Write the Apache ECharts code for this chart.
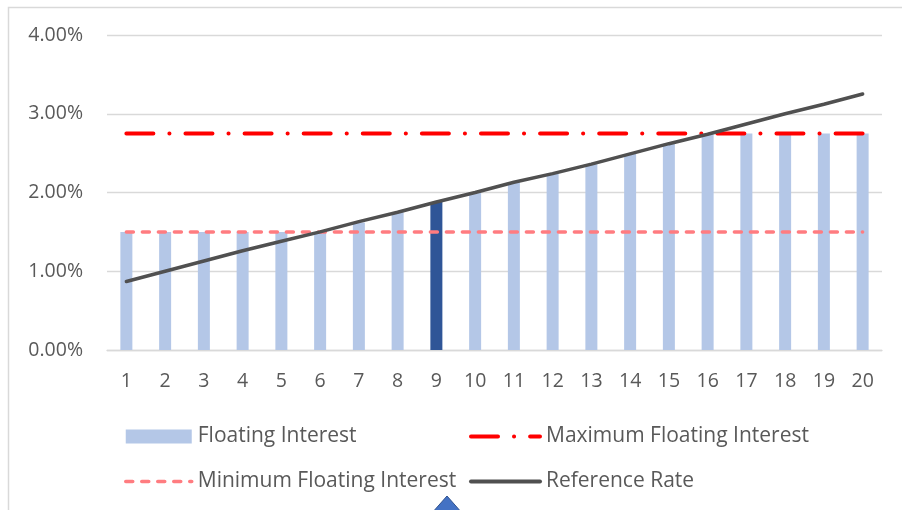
<!DOCTYPE html>
<html>
<head>
<meta charset="utf-8">
<script src="https://cdn.jsdelivr.net/npm/echarts@6/dist/echarts.min.js"></script>
<style>
html,body{margin:0;padding:0;background:#fff;}
#chart{width:902px;height:510px;}
</style>
</head>
<body>
<div id="chart"></div>
<script>
const categories = ['1','2','3','4','5','6','7','8','9','10','11','12','13','14','15','16','17','18','19','20'];
const floatingInterest = [1.5,1.5,1.5,1.5,1.5,1.5,1.62,1.75,1.88,2.0,2.13,2.24,2.36,2.49,2.62,2.74,2.75,2.75,2.75,2.75];
const maximumFloating = [2.75,2.75,2.75,2.75,2.75,2.75,2.75,2.75,2.75,2.75,2.75,2.75,2.75,2.75,2.75,2.75,2.75,2.75,2.75,2.75];
const minimumFloating = [1.5,1.5,1.5,1.5,1.5,1.5,1.5,1.5,1.5,1.5,1.5,1.5,1.5,1.5,1.5,1.5,1.5,1.5,1.5,1.5];
const referenceRate = [0.87,1.0,1.13,1.26,1.38,1.5,1.63,1.75,1.88,2.0,2.13,2.24,2.36,2.49,2.62,2.74,2.87,3.0,3.12,3.25];
const yTicks = [0, 1, 2, 3, 4];
const highlightIndex = 8;

const FONT = 'Open Sans';
const TXT = '#595959';
const FS = 19.5;
const LFS = 21;

const MAX_DASH = [27, 16, 0.1, 16];
const MIN_DASH = [7, 9];

const chart = echarts.init(document.getElementById('chart'), null, {renderer: 'canvas'});
chart.setOption({
  animation: false,
  backgroundColor: '#ffffff',
  textStyle: {fontFamily: FONT, color: TXT},
  grid: {left: 107, right: 20, top: 35, bottom: 160, containLabel: false},
  xAxis: {
    type: 'category',
    data: categories,
    axisLine: {show: true, lineStyle: {color: '#D9D9D9', width: 1.3}},
    axisTick: {show: false},
    axisLabel: {color: TXT, fontFamily: FONT, fontSize: FS, margin: 21}
  },
  yAxis: {
    type: 'value',
    min: yTicks[0],
    max: yTicks[yTicks.length - 1],
    interval: 1,
    axisLine: {show: false},
    axisTick: {show: false},
    splitLine: {lineStyle: {color: '#D9D9D9', width: 1.3}},
    axisLabel: {color: TXT, fontFamily: FONT, fontSize: FS, margin: 24,
      formatter: v => v.toFixed(2) + '%'}
  },
  legend: [
    {
      orient: 'vertical', left: 119, top: 420,
      itemWidth: 66, itemHeight: 14, itemGap: 22,
      data: [
        {name: 'Floating Interest', icon: 'rect'},
        {name: 'Minimum Floating Interest', itemStyle: {opacity: 0}, lineStyle: {width: 3.5, type: MIN_DASH, cap: 'round', color: '#FF7C80'}}
      ],
      textStyle: {color: TXT, fontFamily: FONT, fontSize: LFS, lineHeight: 23, padding: [0,0,0,1]}
    },
    {
      orient: 'vertical', left: 464, top: 420,
      itemWidth: 69, itemHeight: 14, itemGap: 22,
      data: [
        {name: 'Maximum Floating Interest', itemStyle: {opacity: 0}, lineStyle: {width: 4, type: MAX_DASH, cap: 'round', color: '#FF0000'}},
        {name: 'Reference Rate', itemStyle: {opacity: 0}, lineStyle: {width: 4, cap: 'round', color: '#505050'}}
      ],
      textStyle: {color: TXT, fontFamily: FONT, fontSize: LFS, lineHeight: 23, padding: [0,0,0,1]}
    }
  ],
  series: [
    {
      name: 'Floating Interest',
      type: 'bar',
      barWidth: 12,
      itemStyle: {color: '#B4C7E7'},
      data: floatingInterest.map((v, i) => i === highlightIndex ? {value: v, itemStyle: {color: '#2F5597'}} : v),
      z: 1
    },
    {
      name: 'Maximum Floating Interest',
      type: 'line',
      data: maximumFloating,
      symbol: 'none',
      lineStyle: {color: '#FF0000', width: 4, type: MAX_DASH, cap: 'round'},
      itemStyle: {color: '#FF0000'},
      z: 3
    },
    {
      name: 'Minimum Floating Interest',
      type: 'line',
      data: minimumFloating,
      symbol: 'none',
      lineStyle: {color: '#FF7C80', width: 3.5, type: MIN_DASH, cap: 'round'},
      itemStyle: {color: '#FF7C80'},
      z: 3
    },
    {
      name: 'Reference Rate',
      type: 'line',
      data: referenceRate,
      symbol: 'none',
      lineStyle: {color: '#505050', width: 3.5, cap: 'round'},
      itemStyle: {color: '#505050'},
      z: 4
    }
  ],
  graphic: [
    {
      type: 'rect', silent: true, z: -1,
      shape: {x: 8.5, y: 7.5, width: 1000, height: 600},
      style: {fill: 'none', stroke: '#D9D9D9', lineWidth: 1.5}
    },
    {
      type: 'polygon', silent: true, z: 10,
      shape: {points: [[447, 496], [424, 522], [470, 522]]},
      style: {fill: '#4472C4', stroke: '#2F528F', lineWidth: 1}
    }
  ]
});
</script>
</body>
</html>
